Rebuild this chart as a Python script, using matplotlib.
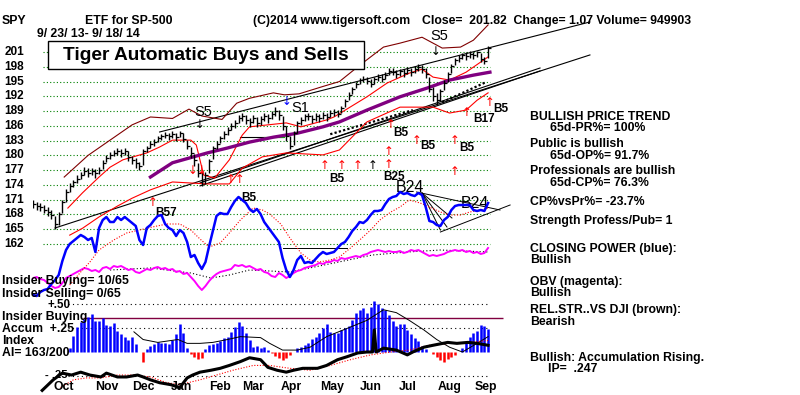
import numpy as np
import matplotlib
matplotlib.use("Agg")
import matplotlib.pyplot as plt
from matplotlib.patches import Rectangle
from matplotlib.path import Path
from matplotlib.transforms import blended_transform_factory

plt.rcParams['font.family'] = ['Liberation Sans', 'DejaVu Sans']
plt.rcParams['font.weight'] = 'bold'

W, H = 800, 395
X0 = 33          # pixel of the first trading day
PX_DAY = 1.835   # pixels per trading day
PX_PT = 4.923    # pixels per dollar on the price scale

# ---------------- data (one bar every 2 trading days, 9/23/13 - 9/18/14) ----------------
close = [170.2, 169.8, 169.5, 169.0, 168.5, 167.8, 166.0, 168.0, 170.5, 172.5,
         173.8, 174.5, 175.3, 176.0, 176.8, 176.5, 176.9, 176.4, 177.0, 178.5,
         179.5, 180.0, 180.5, 180.8, 180.4, 180.9, 179.6, 179.0, 178.4, 177.8,
         180.8, 181.5, 182.4, 182.8, 183.5, 183.9, 184.2, 184.0, 184.3, 183.8,
         184.6, 183.4, 182.0, 180.5, 179.0, 176.5, 174.8, 176.0, 178.8, 181.5,
         182.4, 183.5, 184.3, 185.2, 186.0, 186.5, 187.6, 188.0, 187.2, 186.8,
         187.5, 186.6, 187.3, 188.1, 187.5, 188.5, 189.0, 188.2, 186.0, 184.0,
         182.0, 184.5, 186.5, 187.2, 187.9, 188.0, 187.3, 188.1, 187.6, 188.3,
         187.8, 188.6, 188.9, 188.5, 189.6, 191.0, 192.3, 193.4, 194.6, 195.3,
         195.6, 195.2, 194.6, 195.5, 196.0, 195.6, 196.4, 197.2, 197.0, 196.6,
         197.1, 196.8, 197.4, 196.9, 197.5, 198.0, 197.6, 196.5, 193.5, 192.0,
         191.2, 193.0, 194.8, 196.5, 198.2, 199.3, 199.8, 200.3, 200.1, 200.6,
         200.4, 200.9, 199.6, 199.2, 201.8]
high = [171.0, 170.6, 170.4, 169.9, 169.6, 168.9, 167.6, 168.6, 171.0, 173.2,
        174.3, 175.1, 176.0, 176.7, 177.6, 177.4, 177.5, 177.3, 177.6, 179.0,
        180.1, 180.6, 181.0, 181.4, 181.2, 181.6, 180.8, 179.9, 179.4, 178.6,
        181.2, 182.0, 182.9, 183.4, 184.0, 184.4, 184.7, 184.6, 184.9, 184.6,
        185.0, 184.5, 183.2, 181.8, 180.2, 178.4, 176.6, 176.7, 179.3, 182.0,
        183.0, 184.0, 184.9, 185.7, 186.6, 187.1, 188.2, 188.6, 188.3, 187.6,
        188.2, 187.8, 188.0, 188.7, 188.5, 189.0, 189.8, 189.3, 187.9, 185.9,
        184.0, 185.0, 187.0, 187.8, 188.4, 188.7, 188.3, 188.6, 188.4, 188.9,
        188.7, 189.2, 189.5, 189.3, 190.0, 191.4, 192.8, 193.9, 195.0, 195.8,
        196.1, 196.0, 195.5, 196.0, 196.6, 196.5, 196.9, 197.7, 197.8, 197.4,
        197.6, 197.5, 197.9, 197.7, 198.1, 198.5, 198.3, 197.8, 196.0, 193.8,
        192.6, 193.5, 195.3, 197.0, 198.6, 199.8, 200.3, 200.8, 200.9, 201.2,
        201.0, 201.3, 200.8, 200.0, 202.2]
low = [169.4, 169.0, 168.8, 168.3, 167.7, 167.0, 165.0, 165.9, 168.2, 170.6,
       172.6, 173.6, 174.4, 175.2, 176.0, 175.6, 176.0, 175.5, 176.2, 177.3,
       178.6, 179.3, 179.8, 180.0, 179.6, 180.1, 178.9, 178.2, 177.5, 177.0,
       178.0, 180.6, 181.5, 182.0, 182.7, 183.2, 183.5, 183.1, 183.6, 183.0,
       183.7, 182.8, 181.2, 179.4, 177.8, 175.6, 173.8, 174.2, 176.5, 179.2,
       181.3, 182.5, 183.4, 184.2, 185.1, 185.6, 186.5, 187.0, 186.4, 185.8,
       186.5, 185.7, 186.2, 187.0, 186.6, 187.4, 188.0, 187.2, 185.1, 183.0,
       181.2, 182.1, 184.6, 186.2, 186.9, 187.1, 186.5, 187.0, 186.7, 187.4,
       187.0, 187.7, 188.1, 187.7, 188.6, 189.8, 191.2, 192.5, 193.6, 194.5,
       194.9, 194.4, 193.9, 194.5, 195.2, 194.9, 195.5, 196.3, 196.3, 195.8,
       196.2, 196.0, 196.6, 196.1, 196.7, 197.2, 196.8, 195.8, 192.9, 191.0,
       190.3, 191.0, 193.2, 194.9, 196.8, 198.3, 199.0, 199.5, 199.4, 199.8,
       199.6, 200.0, 199.0, 198.5, 199.8]

# closing power (blue) and OBV (magenta), same 2-day steps, arbitrary units
closing_power = [100, 99, 103, 105, 106, 111, 115, 120, 134, 145,
                 151, 154, 157, 160, 158, 155, 157, 143, 167, 175,
                 178, 173, 173, 178, 175, 178, 175, 172, 169, 155,
                 150, 167, 170, 175, 179, 180, 171, 167, 165, 159,
                 165, 162, 153, 138, 140, 132, 126, 133, 149, 164,
                 179, 182, 181, 181, 188, 194, 198, 195, 192, 186,
                 183, 186, 181, 173, 168, 163, 158, 153, 137, 125,
                 118, 125, 135, 139, 132, 133, 132, 136, 140, 143,
                 141, 142, 143, 147, 151, 153, 158, 164, 168, 173,
                 172, 175, 180, 184, 184, 185, 191, 196, 198, 199,
                 203, 201, 202, 200, 199, 202, 200, 188, 174, 173,
                 170, 169, 175, 178, 185, 189, 190, 190, 190, 190,
                 185, 184, 185, 184, 192]
obv = [117, 118, 116, 115, 112, 109, 107, 108, 112, 117,
       119, 121, 123, 125, 127, 126, 124, 125, 123, 127,
       128, 126, 129, 128, 129, 127, 125, 126, 123, 122,
       124, 126, 125, 127, 128, 126, 127, 125, 126, 123,
       124, 121, 122, 118, 114, 109, 105, 109, 114, 118,
       121, 123, 124, 125, 126, 130, 129, 130, 128, 129,
       127, 125, 126, 123, 122, 119, 118, 122, 120, 117,
       119, 122, 124, 125, 127, 128, 129, 130, 132, 131,
       133, 133, 135, 134, 137, 136, 137, 138, 139, 138,
       140, 141, 143, 144, 145, 144, 143, 144, 143, 143,
       144, 142, 143, 145, 144, 145, 143, 141, 139, 140,
       139, 140, 141, 143, 144, 145, 144, 145, 143, 144,
       142, 143, 141, 142, 147]

# accumulation index, same 2-day steps (first 10 not yet defined)
accum = [np.nan] * 10 + [
    0.04, 0.17, 0.26, 0.31, 0.34, 0.36, 0.40, 0.32, 0.32, 0.35,
    0.28, 0.27, 0.30, 0.22, 0.19, 0.16, 0.125, 0.16, 0.08, 0.0,
    -0.10, 0.03, 0.06, 0.08, 0.10, 0.09, 0.09, 0.08, 0.125, 0.19,
    0.29, 0.20, 0.04, -0.02, -0.05, -0.07, -0.06, 0.03, 0.07, 0.08,
    0.09, 0.11, 0.15, 0.16, 0.21, 0.26, 0.31, 0.27, 0.20, 0.125,
    0.05, 0.06, 0.04, 0.05, 0.02, -0.01, -0.04, -0.06, -0.08, -0.06,
    -0.03, 0.0, 0.04, 0.05, 0.07, 0.09, 0.135, 0.16, 0.20, 0.25,
    0.29, 0.21, 0.20, 0.20, 0.23, 0.25, 0.27, 0.33, 0.41, 0.44,
    0.46, 0.41, 0.47, 0.53, 0.50, 0.46, 0.44, 0.39, 0.32, 0.27,
    0.29, 0.29, 0.23, 0.19, 0.15, 0.11, 0.06, 0.03, 0.0, -0.02,
    -0.05, -0.08, -0.10, -0.07, -0.05, -0.03, 0.0, 0.04, 0.10, 0.16,
    0.20, 0.22, 0.28, 0.27, 0.24]

# band / average lines read at lower resolution: (trading day, value)
band_up_day = [17, 30, 42, 54, 64, 76, 85, 92, 103, 111, 118, 131, 137, 145, 158, 167,
               177, 191, 200, 212, 218, 223, 233, 240, 248]
band_up = [175.6, 180.0, 183.1, 186.2, 187.8, 187.5, 189.4, 188.0, 187.3, 190.6, 191.6,
           192.7, 192.3, 192.5, 194.0, 195.0, 198.0, 202.0, 202.8, 204.0, 202.8, 201.8,
           202.0, 203.4, 206.5]
red_up_day = [19, 27, 36, 42, 49, 62, 69, 76, 86, 89, 93, 99, 107, 114, 118, 138, 146,
              160, 164, 182, 193, 205, 212, 218, 227, 236, 248]
red_up = [169.3, 172.4, 175.6, 177.6, 179.1, 180.5, 181.7, 183.1, 183.1, 182.1, 176.0,
          175.4, 179.1, 184.1, 185.8, 186.6, 185.8, 187.2, 187.8, 191.9, 194.7, 196.7,
          197.5, 195.9, 195.3, 196.9, 200.0]
red_lo_day = [20, 27, 36, 46, 54, 64, 76, 95, 107, 114, 125, 138, 158, 167, 182, 200,
              218, 227, 236, 242, 248]
red_lo = [163.8, 165.2, 167.5, 169.7, 171.3, 173.0, 174.6, 174.2, 174.2, 177.4, 179.7,
          180.5, 180.1, 181.1, 186.8, 189.8, 189.8, 188.6, 189.2, 191.2, 192.7]
ma65_day = [64, 76, 95, 106, 118, 131, 144, 158, 167, 182, 200, 215, 227, 240, 249]
ma65 = [175.6, 178.5, 180.5, 181.5, 182.7, 183.7, 184.5, 185.8, 186.8, 189.2, 191.9,
        193.7, 195.3, 196.3, 196.9]

cp_ma_day = [20, 26, 31, 36, 44, 51, 58, 65, 73, 80, 86, 91, 96, 102, 107, 113, 120,
             125, 129, 135, 140, 146, 151, 156, 162, 167, 173, 178, 184, 189, 195, 200,
             205, 211, 216, 222, 227, 233, 238, 244, 248]
cp_ma = [110, 123, 133, 145, 155, 162, 165, 168, 171, 171, 165, 156, 148, 152, 162, 175,
         187, 185, 181, 171, 157, 142, 135, 133, 135, 138, 147, 155, 165, 175, 183, 188,
         195, 192, 188, 183, 180, 180, 183, 185, 187]
obv_ma_day = [42, 64, 86, 97, 107, 118, 140, 164, 185, 204, 222, 248]
obv_ma = [125, 127, 122, 117, 120, 125, 123, 132, 140, 143, 145, 143]

rs_day = [5, 11, 16, 21, 26, 31, 37, 40, 46, 51, 57, 60, 64, 69, 75, 80, 84, 87, 91, 97,
          102, 107, 113, 118, 124, 128, 133, 138, 142, 147, 155, 160, 166, 171, 177, 182,
          185, 186, 187, 191, 198, 204, 207, 213, 218, 226, 231, 237, 242, 248]
rel_strength = [-0.40, -0.29, -0.22, -0.24, -0.21, -0.24, -0.26, -0.22, -0.26, -0.26,
                -0.24, -0.26, -0.29, -0.32, -0.34, -0.37, -0.27, -0.24, -0.21, -0.19,
                -0.17, -0.14, -0.10, -0.06, -0.08, -0.16, -0.19, -0.21, -0.19, -0.17,
                -0.17, -0.14, -0.08, -0.05, -0.01, 0.0, 0.0, 0.23, 0.0, 0.04,
                0.02, -0.03, 0.0, 0.05, 0.07, 0.10, 0.09, 0.10, 0.09, 0.07]
rs_ma_day = [15, 22, 29, 37, 46, 55, 64, 73, 80, 91, 100, 109, 120, 129, 140, 151, 162,
             173, 184, 195, 205, 216, 227, 238, 248]
rs_ma = [-0.37, -0.29, -0.27, -0.27, -0.24, -0.24, -0.26, -0.32, -0.34, -0.29, -0.24,
         -0.19, -0.14, -0.14, -0.17, -0.19, -0.14, -0.08, -0.03, 0.0, 0.02, 0.07, 0.09,
         0.10, 0.12]
ai_ma_day = [55, 60, 68, 79, 84, 91, 98, 106, 113, 124, 129, 136, 144, 151, 160, 173,
             182, 191, 198, 205, 213, 220, 227, 234, 242, 248]
ai_ma = [0.21, 0.13, 0.10, 0.13, 0.09, 0.09, 0.10, 0.13, 0.16, 0.15, 0.09, 0.02, 0.02,
         0.05, 0.16, 0.26, 0.33, 0.44, 0.41, 0.33, 0.23, 0.13, 0.05, 0.0, 0.09, 0.16]

# trend lines (day, price) pairs
trend_lines = [((12, 165.25), (303.5, 200.4)),
               ((91, 174.4), (276.3, 197.75)),
               ((91, 173.8), (276.3, 197.15)),
               ((69, 184.75), (303.5, 207.1))]
dotted_lines = [((162, 184.3), (207, 189.2)), ((223, 190.8), (247, 194.9))]
cp_lines = [((209, 203), (254.5, 185)), ((212, 202), (222, 165)), ((212, 202), (225.6, 168)),
            ((212, 202), (228.3, 177)), ((222, 163), (260, 190)), ((136, 147), (171, 147))]

price_ticks = [201, 198, 195, 192, 189, 186, 183, 180, 177, 174, 171, 168, 165, 162]
month_names = ['Oct', 'Nov', 'Dec', 'Jan', 'Feb', 'Mar', 'Apr', 'May', 'Jun', 'Jul', 'Aug', 'Sep']
month_pos = [17, 40, 60, 81, 102, 120, 141, 163, 184, 204, 227, 247]

# signals
up_marks = ['\u2191', '\u2191\u2191', '\u2191', '\u2191', '\u2191', '\u2191', '\u2191',
            '\u2191', '\u2191', '\u2191', '\u2191', '\u2191', '\u2191', '\u2191']
up_day = [65, 110.5, 159, 168, 177, 185, 193.5, 193.5, 194.6, 209, 230, 230, 236.5, 249]
up_price = [170.4, 175.0, 177.9, 177.9, 177.9, 177.9, 178.1, 180.8, 186.2, 183.1,
            183.1, 176.8, 188.8, 190.8]
up_color = ['red'] * 5 + ['black'] + ['red'] * 8
buy_labels = ['B57', 'B5', 'B5', 'B25', 'B5', 'B5', 'B5', 'B17', 'B5']
buy_day = [72.5, 117.5, 165.7, 197, 200.5, 215.3, 236.5, 245.8, 255]
buy_price = [168.3, 171.4, 175.2, 175.6, 184.6, 181.9, 181.5, 187.4, 189.4]
big_labels = ['S5', 'S1', 'S5', 'B24', 'B24']
big_day = [92.6, 145.5, 221.5, 205.4, 240.9]
big_price = [188.8, 189.6, 204.3, 173.4, 170.3]
down_marks = ['\u2193\u2193', '\u2193', '\u2193', '\u2193']
down_day = [89.5, 91, 138, 219.6]
down_price = [177.0, 186.3, 191.0, 201.1]
down_color = ['red', 'black', 'blue', 'black']

# ---------------- figure ----------------
fig = plt.figure(figsize=(W / 100, H / 100), dpi=100)
fig.patch.set_facecolor('white')


def overlay(ylim):
    ax = fig.add_axes([X0 / W, 0, 1 - X0 / W, 1])
    ax.set_xlim(0, (W - X0) / PX_DAY)
    ax.set_ylim(*ylim)
    ax.axis('off')
    ax.patch.set_alpha(0)
    return ax


def ftext(x, y, s, **kw):
    kw.setdefault('fontsize', 8.8)
    fig.text(x / W, 1 - y / H, s, va='center', **kw)


days = np.arange(len(close)) * 2

# price panel
axp = overlay((201 - (H - 52) / PX_PT, 201 + 52 / PX_PT))
axp.hlines(price_ticks, 5.4, 249, colors='#008000', linestyles=(0, (1, 2)), lw=0.8)
ylab = blended_transform_factory(fig.transFigure, axp.transData)
for p in price_ticks:
    axp.text(24 / W, p, str(p), transform=ylab, ha='right', va='center', fontsize=8.5)

for (x1, y1), (x2, y2) in trend_lines:
    axp.plot([x1, x2], [y1, y2], color='black', lw=0.8)
for (x1, y1), (x2, y2) in dotted_lines:
    axp.plot([x1, x2], [y1, y2], color='black', lw=1.6, ls=(0, (1, 1)))
axp.plot([113, 136], [183.7, 183.7], color='black', lw=0.8)
axp.plot([126, 137], [183.7, 183.7], color='#00c000', lw=0.8)

axp.plot(band_up_day, band_up, color='#800000', lw=0.8)
axp.plot(red_up_day, red_up, color='red', lw=0.8)
axp.plot(red_lo_day, red_lo, color='red', lw=0.8)
axp.plot(ma65_day, ma65, color='#800080', lw=2.4)

tick = Path([(0, 0), (1, 0)], [Path.MOVETO, Path.LINETO])
axp.vlines(days, low, high, colors='black', lw=1.0)
axp.plot(days, close, ls='none', marker=tick, ms=4, mfc='none', mec='black', mew=0.9)

for m, d, p, c in zip(up_marks, up_day, up_price, up_color):
    axp.text(d, p, m, color=c, ha='center', va='center', fontsize=8.5,
             fontweight='normal', family='DejaVu Sans')
for m, d, p, c in zip(down_marks, down_day, down_price, down_color):
    axp.text(d, p, m, color=c, ha='center', va='center', fontsize=8.5,
             fontweight='normal', family='DejaVu Sans')
for s, d, p in zip(buy_labels, buy_day, buy_price):
    axp.text(d, p, s, ha='center', va='center', fontsize=8.5)
for s, d, p in zip(big_labels, big_day, big_price):
    axp.text(d, p, s, ha='center', va='center', fontsize=11.5 if s == 'B24' else 10.5,
             fontweight='normal')

# closing power / OBV panel
axc = overlay((0, H))
for (x1, y1), (x2, y2) in cp_lines:
    axc.plot([x1, x2], [y1, y2], color='black', lw=0.7)
axc.plot(obv_ma_day, obv_ma, color='black', lw=0.8, ls=(0, (1, 2)))
axc.plot(days, obv, color='#ff00ff', lw=1.4)
axc.plot(cp_ma_day, cp_ma, color='red', lw=0.8, ls=(0, (1, 1.5)))
axc.plot(days, closing_power, color='#0000ff', lw=1.8)

# accumulation index panel
axa = overlay((-43 / 96, 352 / 96))
axa.hlines([0.5, 0.25, -0.25], 19, 249, colors='black', linestyles=(0, (1, 3)), lw=0.8)
axa.hlines([0.354], 27, 256, colors='#800040', lw=1.0)
ai = np.array(accum, dtype=float)
pos = ai >= 0
neg = ai < 0
axa.vlines(days[pos], 0, ai[pos], colors='#0000ff', lw=1.8)
axa.vlines(days[neg], 0, ai[neg], colors='red', lw=1.8)
axa.plot(ai_ma_day, ai_ma, color='black', lw=0.7)
axa.plot(rs_ma_day, rs_ma, color='red', lw=0.8, ls=(0, (1, 1.5)))
axa.plot(rs_day, rel_strength, color='black', lw=2.2)
mlab = blended_transform_factory(axa.transData, fig.transFigure)
for name, d in zip(month_names, month_pos):
    axa.text(d, 1 - 387 / H, name, transform=mlab, ha='center', va='center', fontsize=8.8)

# header
ftext(2, 21, 'SPY')
ftext(85, 21, 'ETF for SP-500')
ftext(253, 21, '(C)2014 www.tigersoft.com')
ftext(422, 21, 'Close=  201.82  Change= 1.07 Volume= 949903')
ftext(37, 34, '9/ 23/ 13- 9/ 18/ 14')
fig.patches.append(Rectangle((48 / W, 1 - 69 / H), 316 / W, 28 / H, transform=fig.transFigure,
                             facecolor='white', edgecolor='black', lw=1, zorder=5))
fig.text(206 / W, 1 - 55 / H, 'Tiger Automatic Buys and Sells', ha='center', va='center',
         fontsize=13.8, zorder=6)

# right-hand notes
notes = [(530, 117, 'BULLISH PRICE TREND'), (550, 128, '65d-PR%= 100%'),
         (530, 144, 'Public is bullish'), (550, 156, '65d-OP%= 91.7%'),
         (530, 171, 'Professionals are bullish'), (550, 183, '65d-CP%= 76.3%'),
         (530, 202, 'CP%vsPr%= -23.7%'), (530, 221, 'Strength Profess/Pub= 1'),
         (530, 249, 'CLOSING POWER (blue):'), (530, 260, 'Bullish'),
         (530, 282, 'OBV (magenta):'), (530, 293, 'Bullish'),
         (530, 310, 'REL.STR..VS DJI (brown):'), (530, 322, 'Bearish'),
         (530, 358, 'Bullish: Accumulation Rising.'), (548, 369, 'IP=  .247')]
for x, y, s in notes:
    ftext(x, y, s)

# left-hand notes
ftext(2, 281, 'Insider Buying= 10/65')
ftext(2, 294, 'Insider Selling= 0/65')
ftext(48, 305, '+.50', fontsize=8.3)
ftext(2, 317, 'Insider Buying')
ftext(2, 329, 'Accum  +.25')
ftext(2, 341, 'Index')
ftext(2, 353, 'AI= 163/200')
ftext(45, 375, '- .25', fontsize=8)

fig.savefig('out.png', dpi=100, facecolor='white')
